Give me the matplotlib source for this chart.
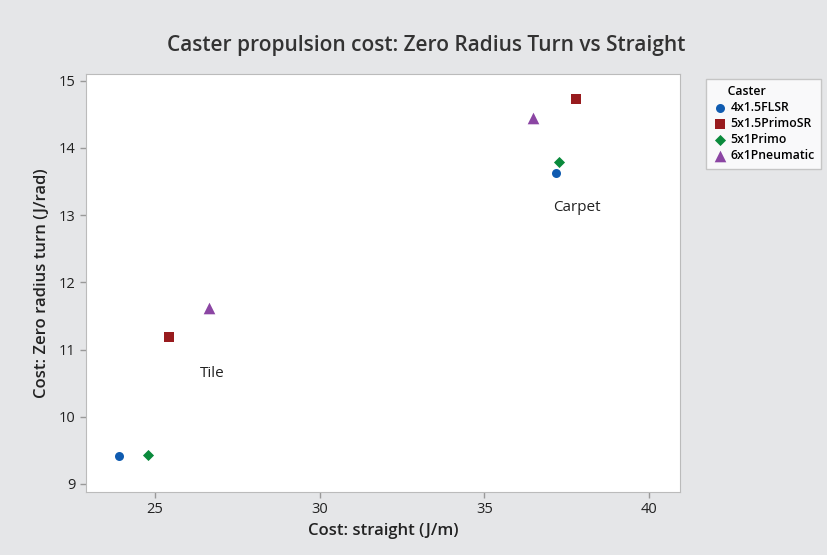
import matplotlib
matplotlib.use("Agg")
import matplotlib.pyplot as plt

plt.rcParams['font.family'] = ['Open Sans', 'DejaVu Sans']

casters = ["4x1.5FLSR", "5x1.5PrimoSR", "5x1Primo", "6x1Pneumatic"]
straight_tile = [23.91, 25.43, 24.79, 26.64]
turn_tile = [9.41, 11.19, 9.43, 11.62]
straight_carpet = [37.16, 37.79, 37.28, 36.49]
turn_carpet = [13.63, 14.73, 13.79, 14.45]
colors = ["#0F5BB0", "#981B1E", "#0A8A3C", "#8B45A3"]
markers = ["o", "s", "D", "^"]
sizes = [42, 42, 32, 70]

fig = plt.figure(figsize=(8.28, 5.55), dpi=100)
fig.patch.set_facecolor("#E5E6E8")
ax = fig.add_axes([86/828, 1-492/555, (680-86)/828, (492-74)/555])
ax.set_facecolor("white")

for i, c in enumerate(casters):
    ax.scatter([straight_tile[i], straight_carpet[i]], [turn_tile[i], turn_carpet[i]],
               marker=markers[i], color=colors[i], s=sizes[i], label=c, linewidths=0, zorder=3)

ax.text(26.73, 10.64, "Tile", fontsize=11, color="#222222", ha="center", va="center")
ax.text(37.8, 13.12, "Carpet", fontsize=11, color="#222222", ha="center", va="center")

ax.set_xlim(22.9, 40.94)
ax.set_ylim(8.88, 15.1)
ax.set_xticks([25, 30, 35, 40])
ax.set_yticks([9, 10, 11, 12, 13, 14, 15])
for sp in ax.spines.values():
    sp.set_color("#BBBBBB")
ax.tick_params(colors="#999999", labelcolor="#222222", labelsize=10.5, length=4, width=1)

ax.set_xlabel("Cost: straight (J/m)", fontsize=12, fontweight="semibold", color="#222222", labelpad=4)
ax.set_ylabel("Cost: Zero radius turn (J/rad)", fontsize=12, fontweight="semibold", color="#222222", labelpad=6)
fig.text(426/828, 1-46/555, "Caster propulsion cost: Zero Radius Turn vs Straight",
         fontsize=15, fontweight="semibold", color="#333333", ha="center", va="center")

leg = fig.legend(loc="upper left", bbox_to_anchor=(700/828, 1-73/555), title="     Caster",
                 fontsize=8.8, title_fontsize=8.8, frameon=True, fancybox=False,
                 handletextpad=0.3, borderpad=0.5, labelspacing=0.25, handlelength=1.2,
                 markerscale=1.0)
leg._legend_box.align = "left"
leg.get_frame().set_edgecolor("#BBBBBB")
leg.get_frame().set_facecolor("white")
leg.get_title().set_fontweight("semibold")
for t in leg.get_texts():
    t.set_fontweight("semibold")

fig.savefig("out.png", dpi=100, facecolor=fig.get_facecolor())
